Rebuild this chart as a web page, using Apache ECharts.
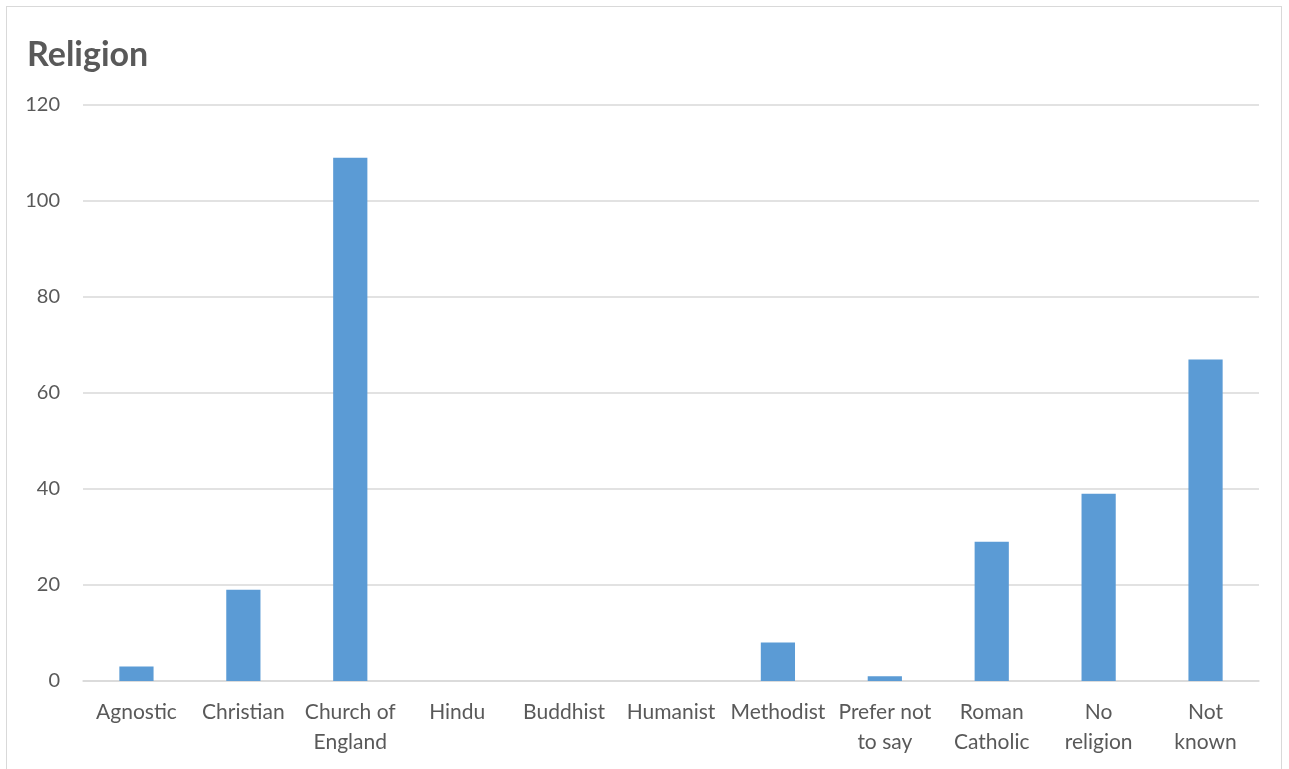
<!DOCTYPE html>
<html>
<head>
<meta charset="utf-8">
<title>Religion</title>
<script src="https://cdn.jsdelivr.net/npm/echarts@6/dist/echarts.min.js"></script>
<style>
  html, body { margin: 0; padding: 0; background: #fff; }
  #frame {
    position: absolute; left: 6px; top: 6px; width: 1276px; height: 780px;
    border: 1px solid #d9d9d9; box-sizing: border-box;
  }
  #chart { position: absolute; left: 0; top: 0; width: 1289px; height: 769px; }
</style>
</head>
<body>
<div id="frame"></div>
<div id="chart"></div>
<script>
// Religion counts per category
const categories = [
  'Agnostic', 'Christian', 'Church of\nEngland', 'Hindu', 'Buddhist', 'Humanist',
  'Methodist', 'Prefer not\nto say', 'Roman\nCatholic', 'No\nreligion', 'Not\nknown'
];
const counts = [3, 19, 109, 0, 0, 0, 8, 1, 29, 39, 67];
const yTicks = { min: 0, max: 120, step: 20 };

const chart = echarts.init(document.getElementById('chart'), null, { renderer: 'canvas' });
const font = 'Lato, "Open Sans", sans-serif';

chart.setOption({
  animation: false,
  title: {
    text: 'Religion',
    left: 22, top: 33,
    textStyle: { fontFamily: font, fontSize: 34, fontWeight: 'bold', color: '#595959' }
  },
  grid: { left: 83, right: 30, top: 105, bottom: 88, containLabel: false },
  xAxis: {
    type: 'category',
    data: categories,
    axisLine: { lineStyle: { color: '#d9d9d9', width: 1.5 } },
    axisTick: { show: false },
    axisLabel: {
      interval: 0, margin: 16,
      fontFamily: font, fontSize: 21, color: '#595959', lineHeight: 30
    }
  },
  yAxis: {
    type: 'value',
    min: yTicks.min, max: yTicks.max, interval: yTicks.step,
    axisLine: { show: false },
    axisTick: { show: false },
    splitLine: { lineStyle: { color: '#d9d9d9', width: 1.5 } },
    axisLabel: { margin: 23, fontFamily: font, fontSize: 20, color: '#595959' }
  },
  series: [{
    type: 'bar',
    data: counts,
    barWidth: '32%',
    itemStyle: { color: '#5b9bd5' }
  }]
});
</script>
</body>
</html>
